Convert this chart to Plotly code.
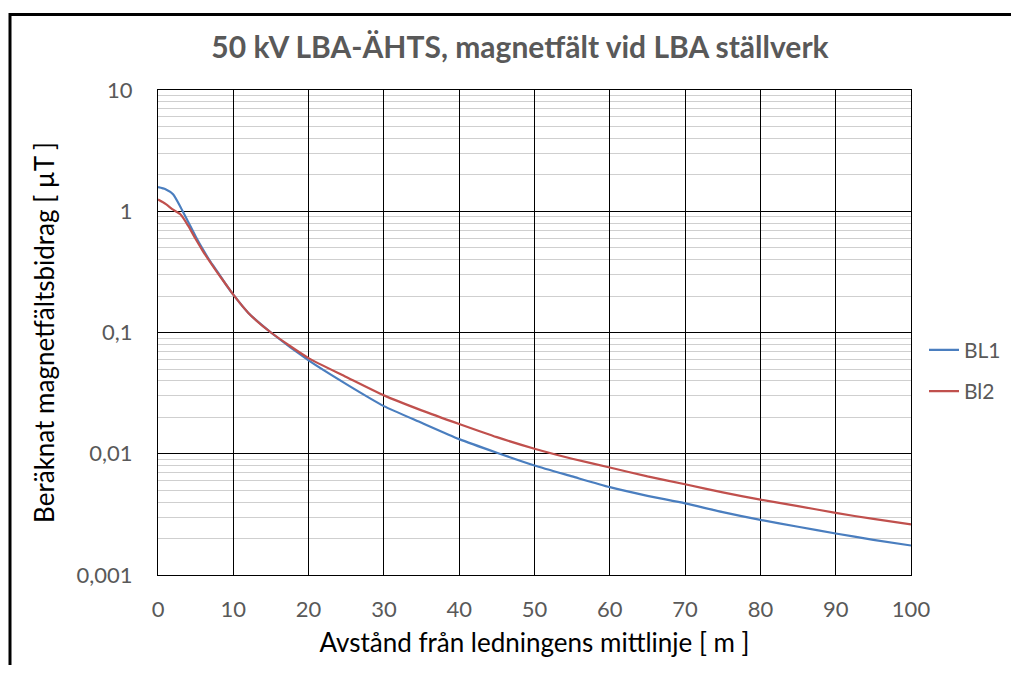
import plotly.graph_objects as go

# Distance from line centre [m]
distance = [0, 1, 2, 3, 4, 5, 6, 7, 8, 9, 10, 12, 15, 20, 25, 30, 35, 40, 45,
            50, 55, 60, 65, 70, 75, 80, 85, 90, 95, 100]
# Magnetic field contribution [µT]
bl1 = [1.58, 1.52, 1.38, 1.08, 0.82, 0.62, 0.48, 0.38, 0.31, 0.25, 0.205, 0.145,
       0.10, 0.0588, 0.0375, 0.0247, 0.0180, 0.0132, 0.0102, 0.0080, 0.0065,
       0.0053, 0.0045, 0.0039, 0.0033, 0.00285, 0.0025, 0.0022, 0.00195, 0.00175]
bl2 = [1.25, 1.15, 1.03, 0.94, 0.76, 0.59, 0.465, 0.375, 0.305, 0.25, 0.205, 0.145,
       0.10, 0.0615, 0.043, 0.0303, 0.0228, 0.0176, 0.0137, 0.0110, 0.0091,
       0.0077, 0.0065, 0.0056, 0.0048, 0.00418, 0.0037, 0.00325, 0.0029, 0.00261]

x_ticks = [0, 10, 20, 30, 40, 50, 60, 70, 80, 90, 100]
y_tickvals = [0.001, 0.01, 0.1, 1, 10]
y_ticktext = ["0,001", "0,01", "0,1", "1", "10"]

title = "50 kV LBA-ÄHTS, magnetfält vid LBA ställverk"
x_title = "Avstånd från ledningens mittlinje [ m ]"
y_title = "Beräknat magnetfältsbidrag [ µT ]"

# page body has an 8px margin: figure coordinates = window coordinates - 8
W, H = 1011, 657
ml, mt, pw, ph = 150, 82, 753, 488
mr, mb = W - ml - pw, H - mt - ph

fig = go.Figure()
fig.add_trace(go.Scatter(x=distance, y=bl1, mode="lines", name="BL1",
                         legendgroup="a",
                         line=dict(color="#4A7EBF", width=2.2, shape="spline", smoothing=0.6)))
fig.add_trace(go.Scatter(x=distance, y=bl2, mode="lines", name="Bl2",
                         legendgroup="b",
                         line=dict(color="#C0504D", width=2.2, shape="spline", smoothing=0.6)))

font_family = "Lato, 'Open Sans', sans-serif"

fig.update_layout(
    width=W, height=H,
    margin=dict(l=ml, r=mr, t=mt, b=mb),
    paper_bgcolor="white", plot_bgcolor="white",
    font=dict(family=font_family, color="#595959"),
    title=dict(text="<b>" + title + "</b>", x=512 / W, xref="container",
               xanchor="center", y=1 - 39 / H, yref="container", yanchor="middle",
               font=dict(size=30, color="#595959", family=font_family)),
    showlegend=True,
    legend=dict(x=(916 - ml) / pw, xref="paper", xanchor="left",
                y=(mt + ph - 364.5) / ph, yref="paper", yanchor="middle",
                font=dict(size=21, color="#595959"), traceorder="grouped",
                tracegroupgap=11, bgcolor="rgba(0,0,0,0)", itemwidth=30),
    xaxis=dict(range=[0, 100], tickvals=x_ticks, showgrid=True, gridcolor="#000000",
               gridwidth=1, zeroline=False, showline=True, linecolor="#000000",
               linewidth=1, mirror=True, ticks="", ticklabelstandoff=15,
               tickfont=dict(size=22, color="#595959"),
               title=dict(text=x_title, font=dict(size=26, color="#000000"), standoff=12)),
    yaxis=dict(type="log", range=[-3, 1], tickmode="array", tickvals=y_tickvals,
               ticktext=y_ticktext, showgrid=True, gridcolor="#000000", gridwidth=1,
               zeroline=False, showline=True, linecolor="#000000", linewidth=1,
               mirror=True, ticks="", tickfont=dict(size=22, color="#595959"),
               ticklabelstandoff=20,
               minor=dict(showgrid=True, gridcolor="#cfcfcf", gridwidth=1, dtick="D1"),
               title=dict(text=y_title, font=dict(size=26, color="#000000"), standoff=14)),
)

# outer frame of the original screenshot (top and left border)
fig.add_shape(type="rect", xref="paper", yref="paper",
              x0=(2 - ml) / pw, x1=(W + 20 - ml) / pw,
              y0=(mt + ph - (H + 20)) / ph, y1=(mt + ph - 6) / ph,
              line=dict(color="#000000", width=3), fillcolor="rgba(0,0,0,0)", layer="below")

fig.write_html("out.html")
